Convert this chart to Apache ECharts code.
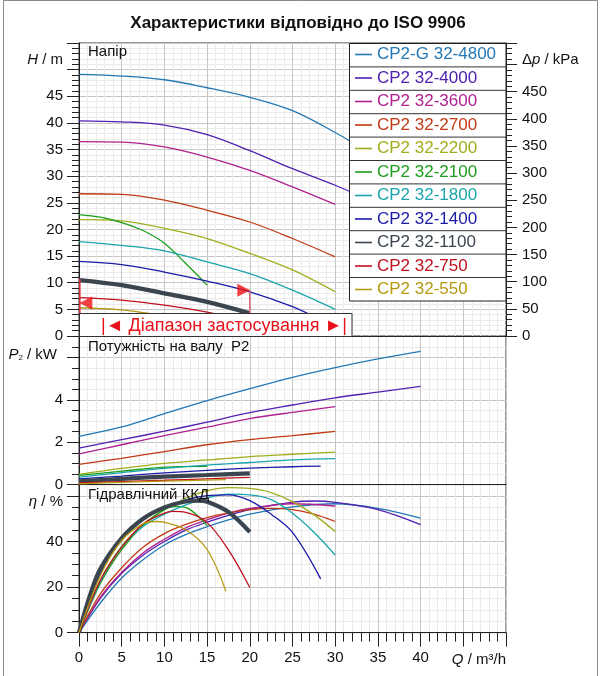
<!DOCTYPE html>
<html>
<head>
<meta charset="utf-8">
<script src="https://cdn.jsdelivr.net/npm/echarts@6/dist/echarts.min.js"></script>
<style>
  html, body { margin: 0; padding: 0; background: #fff; }
  #chart { width: 600px; height: 676px; }
</style>
</head>
<body>
<div id="chart"></div>
<script>
var FONT = '"Liberation Sans", Arial, sans-serif';

// насоси і кольори
var names = ['CP2-G 32-4800', 'CP2 32-4000', 'CP2 32-3600', 'CP2 32-2700', 'CP2 32-2200', 'CP2 32-2100',
  'CP2 32-1800', 'CP2 32-1400', 'CP2 32-1100', 'CP2 32-750', 'CP2 32-550'];
var colors = ['#2378b5', '#5020b0', '#b0208f', '#c03a14', '#a2ad1c', '#1c9e1c',
  '#1aa5ad', '#1b1ba8', '#3b4550', '#c0101e', '#b59a12'];

// подачі Q, m3/h
var q40 = [0, 5, 10, 15, 20, 25, 30, 35, 40];
var q30 = [0, 5, 10, 15, 20, 25, 30];
var q20 = [0, 5, 10, 15, 20];
var q1400 = [0, 5, 10, 15, 20, 25, 28.3];
var qH2100 = [0, 2.5, 5, 7.5, 10, 12.5, 15];
var qP2100 = [0, 5, 10, 15];
var qH750 = [0, 5, 10, 15, 17.5, 20];
var qH550 = [0, 5, 7.5, 10, 12.5, 15, 17.2];
var qP550 = [0, 5, 10, 15, 17.2];

// напір H, m
var h4800 = [49.1, 48.8, 48.1, 46.6, 44.8, 42.3, 38.2, 33.5, 29.0];
var h4000 = [40.4, 40.2, 39.6, 37.8, 34.8, 31.4, 28.3, 24.7, 20.2];
var h3600 = [36.5, 36.4, 35.5, 33.6, 31.1, 28.0, 24.7];
var h2700 = [26.7, 26.6, 25.5, 23.6, 21.4, 18.3, 14.85];
var h2200 = [21.85, 21.6, 20.2, 18.3, 15.5, 12.4, 8.3];
var h2100 = [22.8, 22.3, 21.3, 19.8, 17.4, 13.6, 9.55];
var h1800 = [17.7, 17.0, 16.0, 13.9, 11.7, 8.6, 5.0];
var h1400 = [14.0, 13.4, 12.0, 10.3, 8.3, 5.5, 3.0];
var h1100 = [10.5, 9.55, 8.0, 6.4, 4.25];
var h750 = [7.2, 6.75, 5.8, 4.5, 3.5, 2.3];
var h550 = [5.3, 4.9, 4.4, 3.8, 3.0, 2.1, 1.1];

// потужність P2, kW
var p4800 = [2.28, 2.72, 3.35, 3.97, 4.53, 5.07, 5.53, 5.94, 6.30];
var p4000 = [1.72, 2.12, 2.52, 2.95, 3.40, 3.76, 4.10, 4.37, 4.64];
var p3600 = [1.45, 1.88, 2.31, 2.71, 3.12, 3.41, 3.68];
var p2700 = [0.95, 1.24, 1.56, 1.88, 2.12, 2.31, 2.51];
var p2200 = [0.48, 0.76, 1.0, 1.16, 1.32, 1.43, 1.53];
var p2100 = [0.43, 0.63, 0.82, 0.86];
var p1800 = [0.35, 0.56, 0.76, 0.92, 1.04, 1.16, 1.22];
var p1400 = [0.27, 0.40, 0.55, 0.67, 0.77, 0.84, 0.87];
var p1100 = [0.15, 0.27, 0.37, 0.45, 0.53];
var p750 = [0.08, 0.14, 0.20, 0.27, 0.34];
var p550 = [0.03, 0.10, 0.16, 0.21, 0.23];

// ККД, %
var qE4800 = [0, 2.5, 5, 7.5, 10, 12.5, 15, 17.5, 20, 25, 30, 35, 40];
var e4800 = [0, 13, 24, 32, 38.5, 43, 46.5, 49.5, 52, 55.2, 56.6, 54.6, 50.3];
var qE4000 = [0, 2.5, 5, 7.5, 10, 12.5, 15, 17.5, 20, 25, 27.5, 30, 35, 40];
var e4000 = [0, 15, 26, 34, 40, 45, 48.5, 51.5, 54, 57.3, 57.8, 57.2, 54, 47.4];
var qE3600 = [0, 2.5, 5, 7.5, 10, 12.5, 15, 17.5, 20, 25, 30];
var e3600 = [0, 15.5, 26.5, 35, 41, 46, 49.5, 52.5, 54.5, 56.6, 55.6];
var qE30 = [0, 2.5, 5, 7.5, 10, 12.5, 15, 17.5, 20, 22.5, 25, 27.5, 30];
var e2700 = [0, 17, 28.5, 37.5, 43.5, 47.5, 50.5, 52.5, 54, 54.6, 54, 52, 48.8];
var e2200 = [0, 23, 38, 47.5, 54, 59, 62.3, 63.7, 63.3, 61.5, 57.5, 51.8, 44.4];
var qE2100 = [0, 2.5, 5, 7.5, 10, 11.5, 13, 15];
var e2100 = [0, 21.6, 36.5, 47, 54, 55.4, 54, 47];
var e1800 = [0, 22.4, 37.8, 46.6, 52, 56.1, 59.1, 60.8, 60.5, 58.4, 52.4, 44.1, 34.1];
var qE1400 = [0, 2.5, 5, 7.5, 10, 12.5, 15, 17.5, 20, 22.5, 25, 28.3];
var e1400 = [0, 26, 40.7, 49.5, 54.5, 58.3, 60.2, 60.5, 58, 52, 44, 23.6];
var qE1100 = [0, 1.25, 2.5, 5, 7.5, 10, 12.5, 14, 15, 17.5, 20];
var e1100 = [0, 16, 28, 41.5, 50, 55, 57.6, 58, 57.5, 53, 44.2];
var qE750 = [0, 2.5, 5, 7.5, 10, 11, 12.5, 15, 17.5, 20];
var e750 = [0, 23, 37.5, 47.7, 52.5, 53.2, 52.8, 48.3, 36.3, 19.8];
var qE550 = [0, 2.5, 5, 7.5, 9, 10, 12.5, 15, 17.2];
var e550 = [0, 25, 40.5, 47.8, 48.8, 48.5, 45.2, 36.5, 18.2];

// діапазон застосування (Q, H)
var rangeLeft = [[0.1, 10.7], [0.1, 4.3]];
var rangeRight = [[20, 8.6], [20, 4.3]];
var arrowLeft = [[0.8, 6.2]];
var arrowRight = [[19.3, 8.6]];

var pumps = [
  [q40, h4800, q40, p4800, qE4800, e4800],
  [q40, h4000, q40, p4000, qE4000, e4000],
  [q30, h3600, q30, p3600, qE3600, e3600],
  [q30, h2700, q30, p2700, qE30, e2700],
  [q30, h2200, q30, p2200, qE30, e2200],
  [qH2100, h2100, qP2100, p2100, qE2100, e2100],
  [q30, h1800, q30, p1800, qE30, e1800],
  [q1400, h1400, q1400, p1400, qE1400, e1400],
  [q20, h1100, q20, p1100, qE1100, e1100],
  [qH750, h750, q20, p750, qE750, e750],
  [qH550, h550, qP550, p550, qE550, e550]
];

function pairs(q, v) {
  return q.map(function (x, i) { return [x, v[i]]; });
}

var series = [];
pumps.forEach(function (pm, i) {
  var w = names[i] === 'CP2 32-1100' ? 4.2 : 1.3;
  var panels = [[0, 0, pm[0], pm[1]], [1, 2, pm[2], pm[3]], [2, 4, pm[4], pm[5]]];
  panels.forEach(function (pn) {
    series.push({
      name: names[i], type: 'line', xAxisIndex: pn[0], yAxisIndex: pn[1],
      data: pairs(pn[2], pn[3]), smooth: 0.35, showSymbol: false, symbol: 'none',
      color: colors[i], lineStyle: { width: w, color: colors[i] }, z: 2
    });
  });
});

series.push({ name: 'rl', type: 'line', xAxisIndex: 0, yAxisIndex: 0, data: rangeLeft, symbol: 'none',
  lineStyle: { width: 1.5, color: '#e0303a' }, z: 5 });
series.push({ name: 'rr', type: 'line', xAxisIndex: 0, yAxisIndex: 0, data: rangeRight, symbol: 'none',
  lineStyle: { width: 1.5, color: '#d86a74' }, z: 5 });
series.push({ name: 'al', type: 'scatter', xAxisIndex: 0, yAxisIndex: 0, data: arrowLeft, symbol: 'triangle',
  symbolSize: [13, 13], symbolRotate: 90, itemStyle: { color: '#f01010' }, z: 6 });
series.push({ name: 'ar', type: 'scatter', xAxisIndex: 0, yAxisIndex: 0, data: arrowRight, symbol: 'triangle',
  symbolSize: [13, 13], symbolRotate: -90, itemStyle: { color: '#f01010' }, z: 6 });

var MAJ = '#c6c6c6', MIN = '#ebebeb', AX = '#222';
var lbl = { fontSize: 15, color: '#111', fontFamily: FONT };

function xAx(grid, bottom) {
  return {
    type: 'value', gridIndex: grid, min: 0, max: 50, interval: 5,
    axisLine: { show: true, lineStyle: { color: AX } },
    axisTick: { show: bottom, length: 14, lineStyle: { color: AX } },
    minorTick: { show: bottom, splitNumber: 5, length: 9, lineStyle: { color: AX } },
    splitLine: { show: true, lineStyle: { color: MAJ } },
    minorSplitLine: { show: true, lineStyle: { color: MIN } },
    axisLabel: Object.assign({ show: bottom, margin: 18, formatter: function (v) { return v <= 40 ? v : ''; } }, lbl)
  };
}

var option = {
  animation: false,
  backgroundColor: '#fff',
  textStyle: { fontFamily: FONT },
  grid: [
    { left: 79, top: 43, width: 427, height: 293, show: true, borderColor: '#333', borderWidth: 1 },
    { left: 79, top: 336.5, width: 427, height: 148, show: true, borderColor: '#333', borderWidth: 1 },
    { left: 79, top: 484.6, width: 427, height: 148, show: true, borderColor: '#333', borderWidth: 1 }
  ],
  xAxis: [xAx(0, false), xAx(1, false), xAx(2, true)],
  yAxis: [
    { type: 'value', gridIndex: 0, position: 'left', min: 0, max: 55, interval: 5,
      axisLine: { show: true, lineStyle: { color: AX } },
      axisTick: { show: true, length: 12, lineStyle: { color: AX } },
      minorTick: { show: true, splitNumber: 5, length: 7, lineStyle: { color: AX } },
      splitLine: { show: true, lineStyle: { color: MAJ } },
      minorSplitLine: { show: true, lineStyle: { color: MIN } },
      axisLabel: Object.assign({ margin: 16, formatter: function (v) { return v <= 45 ? v : ''; } }, lbl) },
    { type: 'value', gridIndex: 0, position: 'right', min: 0, max: 55 * 9.81, interval: 50,
      axisLine: { show: true, lineStyle: { color: AX } },
      axisTick: { show: true, length: 11, lineStyle: { color: AX } },
      minorTick: { show: true, splitNumber: 5, length: 6, lineStyle: { color: AX } },
      splitLine: { show: false },
      axisLabel: Object.assign({ margin: 16, formatter: function (v) { return v <= 450 ? v : ''; } }, lbl) },
    { type: 'value', gridIndex: 1, position: 'left', min: 0, max: 7, interval: 0.5,
      axisLine: { show: true, lineStyle: { color: AX } },
      axisTick: { show: true, length: 7, lineStyle: { color: AX } },
      splitLine: { show: true, lineStyle: { color: [MAJ, MIN, MIN, MIN] } },
      axisLabel: { show: false } },
    { type: 'value', gridIndex: 1, position: 'left', min: 0, max: 7, interval: 2,
      axisLine: { show: false },
      axisTick: { show: true, length: 12, lineStyle: { color: AX } },
      splitLine: { show: false },
      axisLabel: Object.assign({ margin: 16, formatter: function (v) { return v <= 4 ? v : ''; } }, lbl) },
    { type: 'value', gridIndex: 2, position: 'left', min: 0, max: 65, interval: 5,
      axisLine: { show: true, lineStyle: { color: AX } },
      axisTick: { show: true, length: 7, lineStyle: { color: AX } },
      splitLine: { show: true, lineStyle: { color: [MAJ, MIN, MIN, MIN] } },
      axisLabel: { show: false } },
    { type: 'value', gridIndex: 2, position: 'left', min: 0, max: 65, interval: 20,
      axisLine: { show: false },
      axisTick: { show: true, length: 12, lineStyle: { color: AX } },
      splitLine: { show: false },
      axisLabel: Object.assign({ margin: 16, formatter: function (v) { return v <= 40 ? v : ''; } }, lbl) }
  ],
  legend: {
    orient: 'vertical', left: 355, top: 46, padding: 0, itemGap: 6.5,
    itemWidth: 17, itemHeight: 1.6, icon: 'rect', selectedMode: false, z: 20,
    textStyle: { fontSize: 17, fontFamily: FONT },
    data: names.map(function (n, i) { return { name: n, textStyle: { color: colors[i] } }; })
  },
  series: series
};

function text(x, y, s, opt) {
  return {
    type: 'text', x: x, y: y, z: 12, silent: true,
    style: Object.assign({ text: s, fontSize: 15, fontFamily: FONT, fill: '#111', align: 'left', verticalAlign: 'middle' }, opt || {})
  };
}
function it(size) { return { fontStyle: 'italic', fontSize: size || 15, fontFamily: FONT, fill: '#111' }; }
function nm(size) { return { fontSize: size || 15, fontFamily: FONT, fill: '#111' }; }

var els = [
  { type: 'rect', z: 1, silent: true, shape: { x: 3.5, y: 0.5, width: 594, height: 700 }, style: { fill: 'none', stroke: '#8a8a8a', lineWidth: 1 } },
  text(298, 23, 'Характеристики відповідно до ISO 9906', { fontSize: 17, fontWeight: 'bold', align: 'center' }),
  text(88, 52, 'Напір'),
  text(88, 347, 'Потужність на валу  P2'),
  text(88, 495, 'Гідравлічний ККД'),
  text(63, 60, '{i|H}{n| / m}', { align: 'right', rich: { i: it(), n: nm() } }),
  text(57, 355, '{i|P}{s|2}{n| / kW}', { align: 'right', rich: { i: it(), s: { fontSize: 8, fontFamily: FONT, fill: '#111', padding: [6, 0, 0, 0] }, n: nm() } }),
  text(63, 502, '{i|η}{n| / %}', { align: 'right', rich: { i: it(), n: nm() } }),
  text(522, 60, '{n|Δ}{i|p}{n| / kPa}', { rich: { i: it(), n: nm() } }),
  text(506, 660, '{i|Q}{n| / m³/h}', { align: 'right', rich: { i: it(), n: nm() } }),
  // легенда
  { type: 'rect', z: 10, silent: true, shape: { x: 349.5, y: 43.5, width: 156.5, height: 257.5 }, style: { fill: '#fff', stroke: '#222', lineWidth: 1 } },
  // діапазон застосування
  { type: 'rect', z: 10, silent: true, shape: { x: 79.5, y: 313.5, width: 272.5, height: 23 }, style: { fill: '#fff', stroke: '#333', lineWidth: 1 } },
  text(224, 326, '|◄ Діапазон застосування ►|', { fontSize: 18, fill: '#e8101a', align: 'center' })
];
for (var k = 1; k < 11; k++) {
  var yy = 43.5 + 23.4 * k;
  els.push({ type: 'line', z: 11, silent: true, shape: { x1: 349.5, y1: yy, x2: 506, y2: yy }, style: { stroke: '#333', lineWidth: 1 } });
}
option.graphic = { elements: els };

var chart = echarts.init(document.getElementById('chart'), null, { renderer: 'canvas' });
chart.setOption(option);
</script>
</body>
</html>
